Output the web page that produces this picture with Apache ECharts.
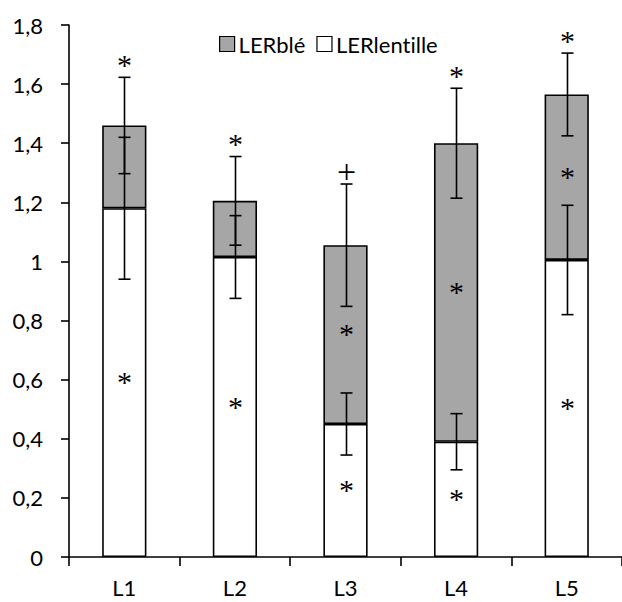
<!DOCTYPE html>
<html>
<head>
<meta charset="utf-8">
<script src="https://cdn.jsdelivr.net/npm/echarts@6/dist/echarts.min.js"></script>
<style>
  html, body { margin: 0; padding: 0; background: #fff; }
  #chart { width: 622px; height: 602px; }
  #chart text { font-variant-ligatures: none; }
</style>
</head>
<body>
<div id="chart"></div>
<script>
// Land equivalent ratio per lentil line, split into the wheat and lentil parts
const categories = ['L1', 'L2', 'L3', 'L4', 'L5'];
const lerLentille = [1.18, 1.015, 0.45, 0.39, 1.005];
const lerBle = [0.28, 0.19, 0.605, 1.01, 0.56];
// standard errors for each partial LER
const errLentille = [0.24, 0.14, 0.105, 0.095, 0.185];
const errBle = [0.163, 0.15, 0.207, 0.186, 0.14];
// significance marks: over the whole bar, inside the wheat part, inside the lentil part
const markTotal = ['*', '*', '+', '*', '*'];
const markBle = ['', '', '*', '*', '*'];
const markLentille = ['*', '*', '*', '*', '*'];
const yTicks = [0, 0.2, 0.4, 0.6, 0.8, 1, 1.2, 1.4, 1.6, 1.8];

const FONT = 'Lato';
const MARK_FONT = '"Liberation Serif"';
const GREY = '#a6a6a6';

const chart = echarts.init(document.getElementById('chart'), null, { renderer: 'svg' });

const errData = categories.map((c, i) => [i, lerLentille[i], errLentille[i], lerBle[i], errBle[i]]);

function renderErrors(params, api) {
  const i = api.value(0);
  const low = api.value(1);
  const eLow = api.value(2);
  const up = api.value(3);
  const eUp = api.value(4);
  const top = low + up;
  const cap = 6;
  const lineStyle = { stroke: '#000', lineWidth: 1.6 };
  const children = [];
  const bar = (center, e) => {
    const a = api.coord([i, center - e]);
    const b = api.coord([i, center + e]);
    const x = Math.round(a[0]) + 0.5;
    children.push({ type: 'line', shape: { x1: x, y1: a[1], x2: x, y2: b[1] }, style: lineStyle });
    children.push({ type: 'line', shape: { x1: x - cap, y1: a[1], x2: x + cap, y2: a[1] }, style: lineStyle });
    children.push({ type: 'line', shape: { x1: x - cap, y1: b[1], x2: x + cap, y2: b[1] }, style: lineStyle });
    return [x, b[1]];
  };
  bar(low, eLow);
  const tip = bar(top, eUp);
  const mark = (txt, x, y) => ({
    type: 'text',
    style: { text: txt, x: x, y: y, align: 'center', verticalAlign: 'middle',
             font: (txt === '+' ? '34px ' : '30px ') + MARK_FONT, fill: '#000' }
  });
  const mid = (v) => api.coord([i, v]);
  if (markTotal[i]) {
    children.push(mark(markTotal[i], tip[0], tip[1] - 13));
  }
  if (markBle[i]) {
    const p = mid(low + up / 2);
    children.push(mark(markBle[i], tip[0], p[1] - 1));
  }
  if (markLentille[i]) {
    const p = mid(low / 2);
    children.push(mark(markLentille[i], tip[0], p[1] - 1));
  }
  return { type: 'group', children: children };
}

const option = {
  backgroundColor: '#fff',
  animation: false,
  textStyle: { fontFamily: FONT },
  grid: { left: 69, right: -3, top: 25, bottom: 45, containLabel: false },
  legend: {
    data: ['LERblé', 'LERlentille'],
    left: 214, top: 28,
    icon: 'rect', itemWidth: 15, itemHeight: 15, itemGap: 11,
    textStyle: { fontFamily: FONT, fontSize: 22, color: '#000', padding: [0, 0, 0, -1] },
    itemStyle: { borderColor: '#000', borderWidth: 1.2 }
  },
  xAxis: {
    type: 'category',
    data: categories,
    axisLine: { lineStyle: { color: '#000', width: 1.6 } },
    axisTick: { show: true, length: 9, alignWithLabel: false, lineStyle: { color: '#000', width: 1.6 } },
    axisLabel: { color: '#000', fontSize: 22, fontFamily: FONT, margin: 19 }
  },
  yAxis: {
    type: 'value',
    min: 0, max: 1.8, interval: 0.2,
    axisLine: { show: true, lineStyle: { color: '#000', width: 1.6 } },
    axisTick: { show: true, length: 8, lineStyle: { color: '#000', width: 1.6 } },
    splitLine: { show: false },
    axisLabel: {
      color: '#000', fontSize: 22, fontFamily: FONT, margin: 26,
      formatter: (v) => {
        const t = yTicks.find((k) => Math.abs(k - v) < 1e-6);
        return String(t !== undefined ? t : +v.toFixed(1)).replace('.', ',');
      }
    }
  },
  series: [
    {
      name: 'LERlentille', type: 'bar', stack: 'ler', barWidth: '40%',
      data: lerLentille,
      itemStyle: { color: '#fff', borderColor: '#000', borderWidth: 1.6 }
    },
    {
      name: 'LERblé', type: 'bar', stack: 'ler', barWidth: '40%',
      data: lerBle,
      itemStyle: { color: GREY, borderColor: '#000', borderWidth: 1.6 }
    },
    {
      name: 'errors', type: 'custom', renderItem: renderErrors,
      data: errData, z: 5, silent: true,
      encode: { x: 0, y: 1 }
    }
  ]
};

chart.setOption(option);
</script>
</body>
</html>
